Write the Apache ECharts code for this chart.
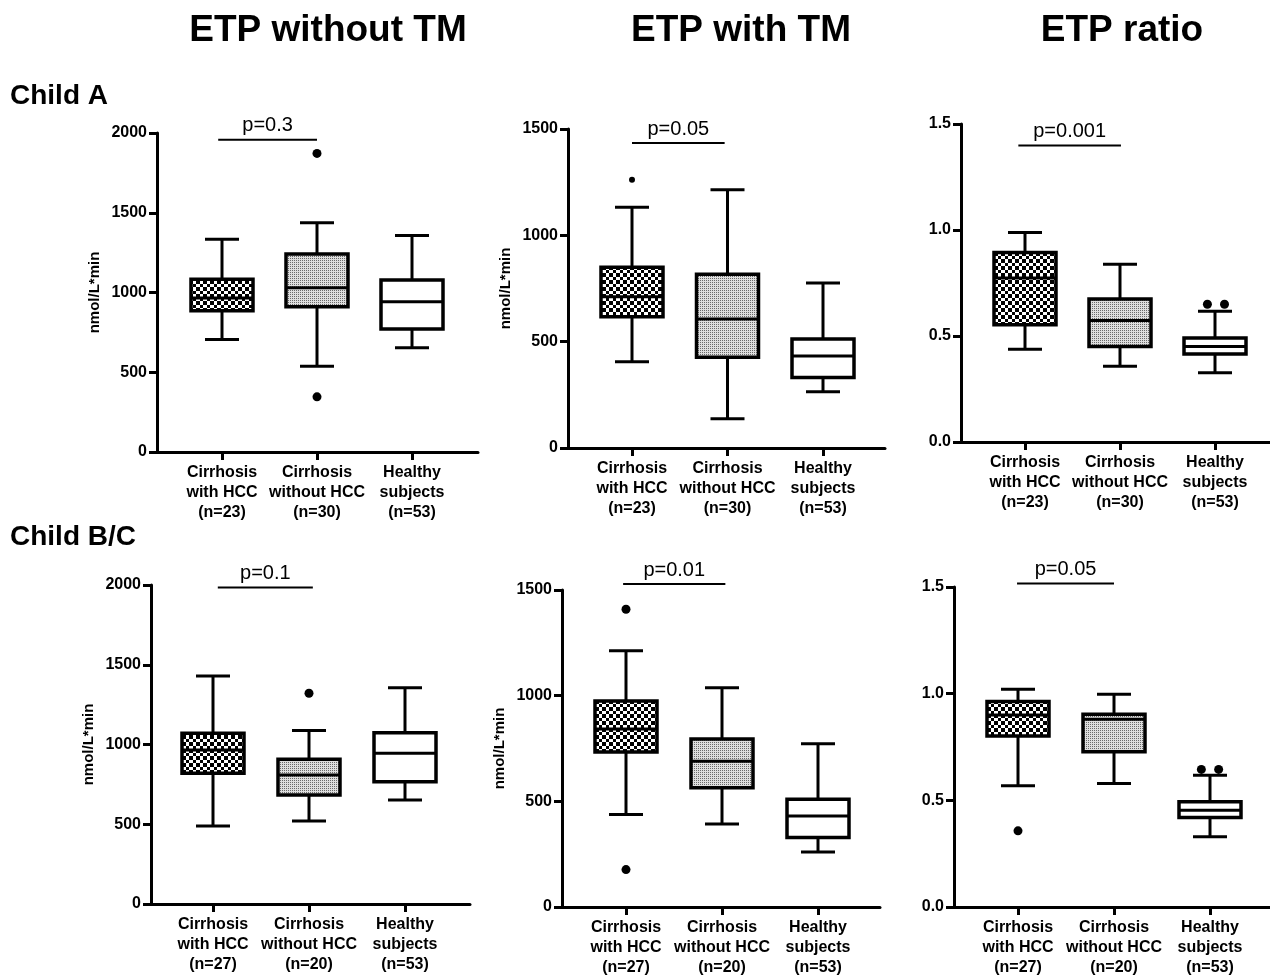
<!DOCTYPE html>
<html>
<head>
<meta charset="utf-8">
<script src="https://cdn.jsdelivr.net/npm/echarts@6/dist/echarts.min.js"></script>
<style>
html,body{margin:0;padding:0;background:#fff;}
#c{width:1270px;height:978px;}
</style>
</head>
<body>
<div id="c"></div>
<script>
// ---- data ----
const categories = ['Cirrhosis\nwith HCC', 'Cirrhosis\nwithout HCC', 'Healthy\nsubjects'];
const nChildA = ['(n=23)', '(n=30)', '(n=53)'];
const nChildBC = ['(n=27)', '(n=20)', '(n=53)'];
const colTitles = ['ETP without TM', 'ETP with TM', 'ETP ratio'];
const rowTitles = ['Child A', 'Child B/C'];
const yTicksEtp = [0, 500, 1000, 1500, 2000];
const yTicksTm = [0, 500, 1000, 1500];
const yTicksRatio = [0.0, 0.5, 1.0, 1.5];

// boxes: [min, Q1, median, Q3, max] per group
const boxA_noTM = [[706, 886, 965, 1083, 1334], [538, 911, 1030, 1242, 1437], [653, 771, 942, 1079, 1357]];
const outA_noTM = [[1, 1872], [1, 346]];
const boxA_TM = [[405, 617, 711, 850, 1132], [138, 427, 606, 817, 1214], [264, 331, 433, 512, 776]];
const outA_TM = [[0, 1261]];
const boxA_ratio = [[0.438, 0.553, 0.773, 0.894, 0.988], [0.357, 0.451, 0.573, 0.675, 0.839], [0.327, 0.415, 0.451, 0.490, 0.617]];
const outA_ratio = [[1.92, 0.65], [2.1, 0.65]];
const boxBC_noTM = [[489, 819, 966, 1070, 1429], [520, 683, 809, 907, 1087], [652, 767, 945, 1074, 1356]];
const outBC_noTM = [[1, 1321]];
const boxBC_TM = [[438, 733, 842, 975, 1213], [393, 564, 690, 795, 1038], [260, 329, 431, 510, 772]];
const outBC_TM = [[0, 1409], [0, 177]];
const boxBC_ratio = [[0.568, 0.802, 0.900, 0.963, 1.021], [0.579, 0.728, 0.880, 0.903, 0.997], [0.329, 0.420, 0.454, 0.493, 0.618]];
const outBC_ratio = [[0, 0.357], [1.91, 0.645], [2.09, 0.645]];

// p-value annotations: [label], bracket [x0, x1, y]
const pLabels = ['p=0.3', 'p=0.05', 'p=0.001', 'p=0.1', 'p=0.01', 'p=0.05'];
const pBrackets = [[-0.04, 1.0, 1958], [0, 0.97, 1434], [-0.07, 1.01, 1.398], [0.05, 1.04, 1985], [-0.03, 1.035, 1528], [-0.01, 1.0, 1.516]];

// ---- layout (pixels) ----
const FONT = 'Liberation Sans, Arial, sans-serif';
const layouts = [
  {left: 157, right: 478, c0: 222, c2: 412, top: 133, bottom: 452},
  {left: 568, right: 885, c0: 632, c2: 823, top: 129, bottom: 448},
  {left: 961, right: 1270, c0: 1025, c2: 1215, top: 124, bottom: 442},
  {left: 151, right: 470, c0: 213, c2: 405, top: 585, bottom: 904},
  {left: 562, right: 880, c0: 626, c2: 818, top: 590, bottom: 909},
  {left: 954, right: 1270, c0: 1018, c2: 1210, top: 587, bottom: 907}
];
const panels = [
  {box: boxA_noTM, out: outA_noTM, ticks: yTicksEtp, n: nChildA, name: 'nmol/L*min', dec: 0, dot: 9},
  {box: boxA_TM, out: outA_TM, ticks: yTicksTm, n: nChildA, name: 'nmol/L*min', dec: 0, dot: 6},
  {box: boxA_ratio, out: outA_ratio, ticks: yTicksRatio, n: nChildA, name: '', dec: 1, dot: 9},
  {box: boxBC_noTM, out: outBC_noTM, ticks: yTicksEtp, n: nChildBC, name: 'nmol/L*min', dec: 0, dot: 9},
  {box: boxBC_TM, out: outBC_TM, ticks: yTicksTm, n: nChildBC, name: 'nmol/L*min', dec: 0, dot: 9},
  {box: boxBC_ratio, out: outBC_ratio, ticks: yTicksRatio, n: nChildBC, name: '', dec: 1, dot: 9}
];

// ---- fill patterns ----
function makeChecker() {
  const c = document.createElement('canvas');
  c.width = 7; c.height = 7;
  const g = c.getContext('2d');
  g.fillStyle = '#fff'; g.fillRect(0, 0, 7, 7);
  g.fillStyle = '#000';
  g.fillRect(0, 0, 4, 4);
  g.fillRect(4, 4, 3, 3);
  return {image: c, repeat: 'repeat'};
}
function makeStipple() {
  const c = document.createElement('canvas');
  c.width = 2; c.height = 2;
  const g = c.getContext('2d');
  g.fillStyle = '#dedede'; g.fillRect(0, 0, 2, 2);
  g.fillStyle = '#6a6a6a';
  g.fillRect(0, 0, 1, 1);
  return {image: c, repeat: 'repeat'};
}
const fills = [makeChecker(), makeStipple(), '#fff'];

const chart = echarts.init(document.getElementById('c'), null, {renderer: 'canvas'});

const grids = [], xAxes = [], yAxes = [], series = [];
panels.forEach((p, i) => {
  const L = layouts[i];
  const sp = (L.c2 - L.c0) / 2;
  grids.push({left: L.left, top: L.top, width: L.right - L.left, height: L.bottom - L.top, containLabel: false});
  xAxes.push({
    type: 'value', gridIndex: i,
    min: -(L.c0 - L.left) / sp, max: 2 + (L.right - L.c2) / sp,
    splitLine: {show: false},
    axisLine: {show: true, onZero: false, lineStyle: {color: '#000', width: 3}},
    axisTick: {show: true, customValues: [0, 1, 2], length: 8, lineStyle: {color: '#000', width: 3}},
    axisLabel: {
      show: true, customValues: [0, 1, 2], margin: 11,
      formatter: v => categories[Math.round(v)] + '\n' + p.n[Math.round(v)],
      color: '#000', fontFamily: FONT, fontWeight: 'bold', fontSize: 16, lineHeight: 20, align: 'center'
    }
  });
  const t = p.ticks;
  yAxes.push({
    type: 'value', gridIndex: i,
    min: t[0], max: t[t.length - 1], interval: t[1] - t[0],
    splitLine: {show: false},
    name: p.name, nameLocation: 'middle', nameGap: 55, nameRotate: 90,
    nameTextStyle: {color: '#000', fontFamily: FONT, fontWeight: 'bold', fontSize: 15},
    axisLine: {show: true, onZero: false, lineStyle: {color: '#000', width: 3}},
    axisTick: {show: true, length: 8, lineStyle: {color: '#000', width: 3}},
    axisLabel: {
      margin: 10, color: '#000', fontFamily: FONT, fontWeight: 'bold', fontSize: 16,
      formatter: v => v.toFixed(p.dec)
    }
  });
  series.push({
    type: 'custom', xAxisIndex: i, yAxisIndex: i, clip: false, z: 3,
    data: p.box.map((b, k) => [k].concat(b)),
    renderItem: (params, api) => {
      const x = api.value(0);
      const lo = api.coord([x, api.value(1)]);
      const q1 = api.coord([x, api.value(2)]);
      const md = api.coord([x, api.value(3)]);
      const q3 = api.coord([x, api.value(4)]);
      const hi = api.coord([x, api.value(5)]);
      const cx = lo[0], bw = 62, cw = 34;
      const st = {stroke: '#000', lineWidth: 3, fill: null};
      return {type: 'group', children: [
        {type: 'line', shape: {x1: cx, y1: hi[1], x2: cx, y2: q3[1]}, style: st},
        {type: 'line', shape: {x1: cx, y1: q1[1], x2: cx, y2: lo[1]}, style: st},
        {type: 'line', shape: {x1: cx - cw / 2, y1: hi[1], x2: cx + cw / 2, y2: hi[1]}, style: st},
        {type: 'line', shape: {x1: cx - cw / 2, y1: lo[1], x2: cx + cw / 2, y2: lo[1]}, style: st},
        {type: 'rect', shape: {x: cx - bw / 2, y: q3[1], width: bw, height: q1[1] - q3[1]},
          style: {fill: fills[params.dataIndex], stroke: '#000', lineWidth: 3.5}},
        {type: 'line', shape: {x1: cx - bw / 2, y1: md[1], x2: cx + bw / 2, y2: md[1]}, style: {stroke: '#000', lineWidth: 3}}
      ]};
    }
  });
  series.push({
    type: 'scatter', xAxisIndex: i, yAxisIndex: i, z: 4,
    symbol: 'circle', symbolSize: p.dot, itemStyle: {color: '#000', opacity: 1},
    data: p.out
  });
  series.push({
    type: 'custom', xAxisIndex: i, yAxisIndex: i, clip: false, z: 5,
    data: [pBrackets[i]],
    renderItem: (params, api) => {
      const a = api.coord([api.value(0), api.value(2)]);
      const b = api.coord([api.value(1), api.value(2)]);
      return {type: 'group', children: [
        {type: 'line', shape: {x1: a[0], y1: a[1], x2: b[0], y2: b[1]}, style: {stroke: '#000', lineWidth: 2}},
        {type: 'text', x: (a[0] + b[0]) / 2, y: a[1] - 4,
          style: {text: pLabels[i], fill: '#000', font: '20px ' + FONT, textAlign: 'center', textVerticalAlign: 'bottom'}}
      ]};
    }
  });
});

const graphics = [
  {type: 'text', x: 328, y: 31, style: {text: colTitles[0], fill: '#000', font: 'bold 37px ' + FONT, textAlign: 'center', textVerticalAlign: 'middle'}},
  {type: 'text', x: 741, y: 31, style: {text: colTitles[1], fill: '#000', font: 'bold 37px ' + FONT, textAlign: 'center', textVerticalAlign: 'middle'}},
  {type: 'text', x: 1122, y: 31, style: {text: colTitles[2], fill: '#000', font: 'bold 37px ' + FONT, textAlign: 'center', textVerticalAlign: 'middle'}},
  {type: 'text', x: 10, y: 96, style: {text: rowTitles[0], fill: '#000', font: 'bold 28px ' + FONT, textAlign: 'left', textVerticalAlign: 'middle'}},
  {type: 'text', x: 10, y: 537, style: {text: rowTitles[1], fill: '#000', font: 'bold 28px ' + FONT, textAlign: 'left', textVerticalAlign: 'middle'}}
];

chart.setOption({
  animation: false,
  backgroundColor: '#fff',
  grid: grids, xAxis: xAxes, yAxis: yAxes, series: series, graphic: graphics
});
</script>
</body>
</html>
